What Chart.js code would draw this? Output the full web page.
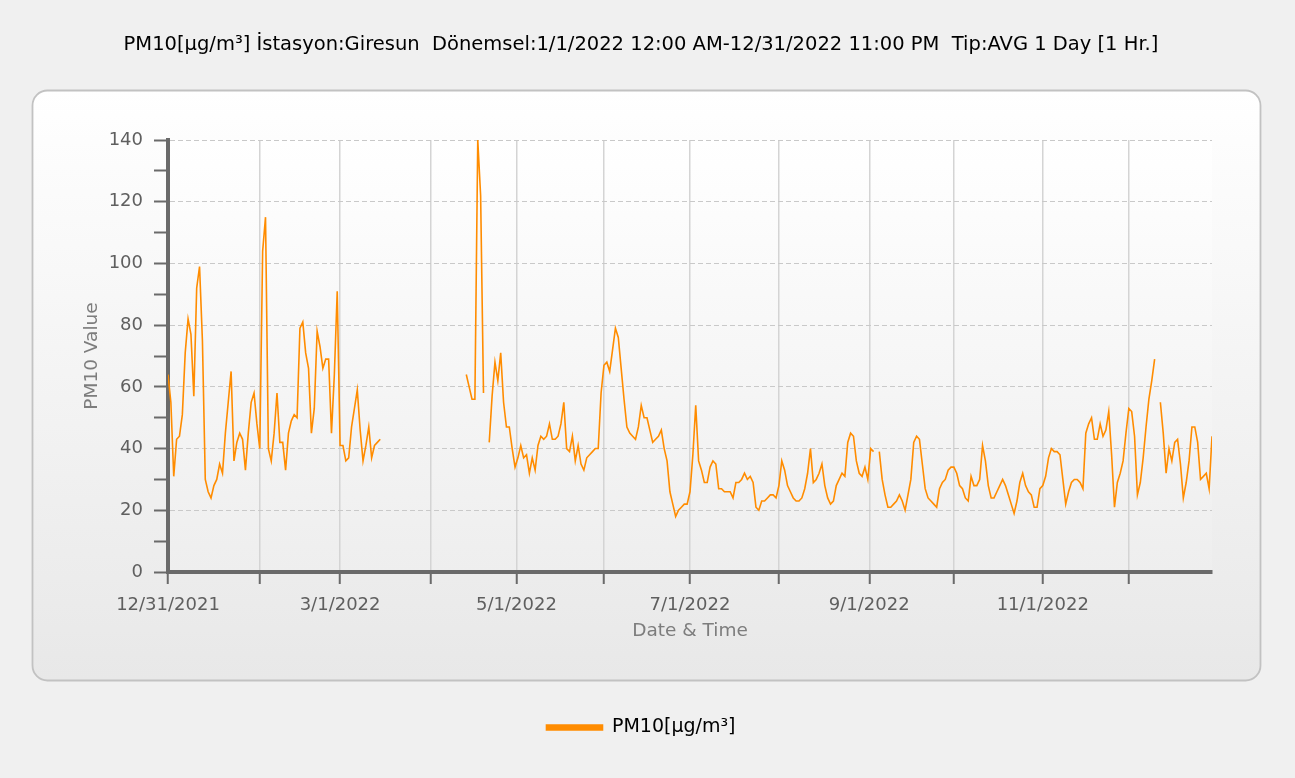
<!DOCTYPE html>
<html lang="tr">
<head>
<meta charset="utf-8">
<title>PM10 - Giresun 2022</title>
<script src="https://cdn.jsdelivr.net/npm/chart.js@4/dist/chart.umd.min.js"></script>
<style>
  html, body { margin: 0; padding: 0; background: #f0f0f0; }
  #wrap { width: 1295px; height: 778px; position: relative; }
</style>
</head>
<body>
<div id="wrap"><canvas id="grafik"></canvas></div>
<script>
/* ============================================================
   PM10 gunluk ortalama - Giresun istasyonu, 2022
   - degerler ay ay (gun sirasiyla), eksik gunler null
   - x ekseni: 12/31/2021'den itibaren gun sayisi
   ============================================================ */

const TITLE = 'PM10[µg/m³] İstasyon:Giresun  Dönemsel:1/1/2022 12:00 AM-12/31/2022 11:00 PM  Tip:AVG 1 Day [1 Hr.]';
const SERIES_LABEL = 'PM10[µg/m³]';

/* ---------- Veri (µg/m³) ---------- */
const jan = [64, 55, 31, 43, 44, 51, 71, 82, 77, 57, 92, 99, 75, 30, 26, 24, 28, 30, 35, 32, 45, 55, 65, 36, 42, 45, 43, 33, 45, 55, 58];
const feb = [48, 40, 104, 115, 40, 36, 45, 58, 42, 42, 33, 45, 49, 51, 50, 79, 81, 71, 66, 45, 53, 78, 73, 66, 69, 69, 45, 64];
const mar = [91, 41, 41, 36, 37, 47, 53, 59, 46, 36, 41, 47, 37, 41, 42, 43,
             null, null, null, null, null, null, null, null, null, null, null, null, null, null, null];
const apr = [null, null, null, null, null, null, null, null, null, null, null, null, null, null,
             64, 60, 56, 56, 140, 122, 58, null, 42, 57, 68, 62, 71, 55, 47, 47];
const may = [40, 34, 37, 41, 37, 38, 32, 37, 33, 41, 44, 43, 44, 48, 43, 43, 44, 48, 55, 40, 39, 44, 36, 41, 35, 33, 37, 38, 39, 40, 40];
const jun = [58, 67, 68, 65, 72, 79, 76, 66, 56, 47, 45, 44, 43, 47, 54, 50, 50, 46, 42, 43, 44, 46, 40, 36, 26, 22, 18, 20, 21, 22];
const jul = [22, 26, 38, 54, 36, 33, 29, 29, 34, 36, 35, 27, 27, 26, 26, 26, 24, 29, 29, 30, 32, 30, 31, 29, 21, 20, 23, 23, 24, 25, 25];
const aug = [24, 28, 36, 33, 28, 26, 24, 23, 23, 24, 27, 32, 40, 29, 30, 32, 35, 28, 24, 22, 23, 28, 30, 32, 31, 42, 45, 44, 36, 32, 31];
const sep = [34, 30, 40, 39, null, 39, 30, 25, 21, 21, 22, 23, 25, 23, 20, 25, 30, 42, 44, 43, 35, 27, 24, 23, 22, 21, 27, 29, 30, 33];
const oct = [34, 34, 32, 28, 27, 24, 23, 31, 28, 28, 30, 41, 36, 28, 24, 24, 26, 28, 30, 28, 25, 22, 19, 23, 29, 32, 28, 26, 25, 21, 21];
const nov = [27, 28, 31, 37, 40, 39, 39, 38, 30, 22, 26, 29, 30, 30, 29, 27, 45, 48, 50, 43, 43, 48, 44, 46, 52, 38, 21, 29, 32, 36];
const dec = [45, 53, 52, 44, 25, 29, 37, 47, 56, 62, 69, null, 55, 45, 32, 40, 36, 42, 43, 35, 24, 29, 36, 47, 47, 42, 30, 31, 32, 27, 44];

/* ---------- Eksen ---------- */
const X_MIN = 0, X_MAX = 364;
const TICK_DAYS   = [0, 32, 60, 91.5, 121.5, 152, 182, 213, 244.5, 274, 305, 335];
const TICK_LABELS = ['12/31/2021', '', '3/1/2022', '', '5/1/2022', '', '7/1/2022', '', '9/1/2022', '', '11/1/2022', ''];
const Y_MIN = 0, Y_MAX = 140, Y_STEP = 10, Y_LABEL_STEP = 20;

/* ---------- Renkler / yazi ---------- */
const ORANGE   = '#ff8c00';
const AXIS     = '#6a6a6a';
const GRID     = '#c9c9c9';
const VGRID    = '#d4d4d4';
const LABEL    = '#5f5f5f';
const TITLE_AX = '#7d7d7d';
const FONT     = "'DejaVu Sans', 'Liberation Sans', sans-serif";

const values = [].concat(jan, feb, mar, apr, may, jun, jul, aug, sep, oct, nov, dec);
const points = values.map((v, i) => ({ x: i, y: v }));

// cerceve + cizim alani arka plani (gri zemin, yuvarlak kose, gecisli dolgu)
const panelPlugin = {
  id: 'panel',
  beforeDraw(chart) {
    const { ctx, chartArea: a } = chart;
    ctx.save();
    ctx.fillStyle = '#f0f0f0';
    ctx.fillRect(0, 0, chart.width, chart.height);

    const px = a.left - 136, py = a.top - 50, pw = a.right - a.left + 184, ph = a.bottom - a.top + 158;
    const g = ctx.createLinearGradient(0, py, 0, py + ph);
    g.addColorStop(0, '#ffffff');
    g.addColorStop(1, '#e8e8e8');
    ctx.beginPath();
    ctx.roundRect(px + 0.5, py + 0.5, pw, ph, 15);
    ctx.fillStyle = g;
    ctx.fill();
    ctx.strokeStyle = '#c2c2c2';
    ctx.lineWidth = 1.8;
    ctx.stroke();

    const g2 = ctx.createLinearGradient(0, a.top, 0, a.bottom);
    g2.addColorStop(0, '#ffffff');
    g2.addColorStop(1, '#eeeeee');
    ctx.fillStyle = g2;
    ctx.fillRect(a.left, a.top, a.right - a.left, a.bottom - a.top);
    ctx.restore();
  }
};

new Chart(document.getElementById('grafik'), {
  type: 'line',
  data: {
    datasets: [{
      label: SERIES_LABEL,
      data: points,
      borderColor: ORANGE,
      backgroundColor: ORANGE,
      borderWidth: 1.6,
      pointRadius: 0,
      tension: 0,
      spanGaps: false,
    }],
  },
  options: {
    responsive: true,
    maintainAspectRatio: false,
    animation: false,
    layout: { padding: { left: 70, right: 83, top: 0, bottom: 31 } },
    plugins: {
      title: {
        display: true, text: TITLE, color: '#000',
        font: { family: FONT, size: 19.5, weight: 'normal' },
        padding: { top: 33.6, bottom: 83 },
      },
      legend: {
        position: 'bottom',
        labels: {
          boxWidth: 56, boxHeight: 5, padding: 10, color: '#000',
          font: { family: FONT, size: 19 },
        },
      },
      tooltip: { enabled: false },
    },
    scales: {
      x: {
        type: 'linear', min: X_MIN, max: X_MAX,
        afterFit: s => { s.height = 136; },
        afterBuildTicks: s => { s.ticks = TICK_DAYS.map(v => ({ value: v })); },
        ticks: {
          autoSkip: false, maxRotation: 0, padding: 11,
          callback: (v, i) => TICK_LABELS[i],
          color: LABEL, font: { family: FONT, size: 18 },
        },
        grid: { color: VGRID, lineWidth: 1.5, tickLength: 12, tickColor: AXIS, tickWidth: 2 },
        border: { color: AXIS, width: 4 },
        title: {
          display: true, text: 'Date & Time', color: TITLE_AX,
          font: { family: FONT, size: 18.5 }, padding: { top: 0, bottom: 66 },
        },
      },
      y: {
        min: Y_MIN, max: Y_MAX,
        afterFit: s => { s.width = 98; },
        ticks: {
          stepSize: Y_STEP, padding: 11,
          callback: v => (v % Y_LABEL_STEP === 0 ? v : ''),
          color: LABEL, font: { family: FONT, size: 18 },
        },
        grid: {
          color: c => (c.tick && c.tick.value % Y_LABEL_STEP === 0 && c.tick.value > 0 ? GRID : 'rgba(0,0,0,0)'),
          lineWidth: 1, tickLength: 14, tickColor: AXIS, tickWidth: 2,
        },
        border: { color: AXIS, width: 4, dash: [5, 3] },
        title: {
          display: true, text: 'PM10 Value', color: TITLE_AX,
          font: { family: FONT, size: 18.5 }, padding: { top: 11, bottom: 0 },
        },
      },
    },
  },
  plugins: [panelPlugin],
});
</script>
</body>
</html>
